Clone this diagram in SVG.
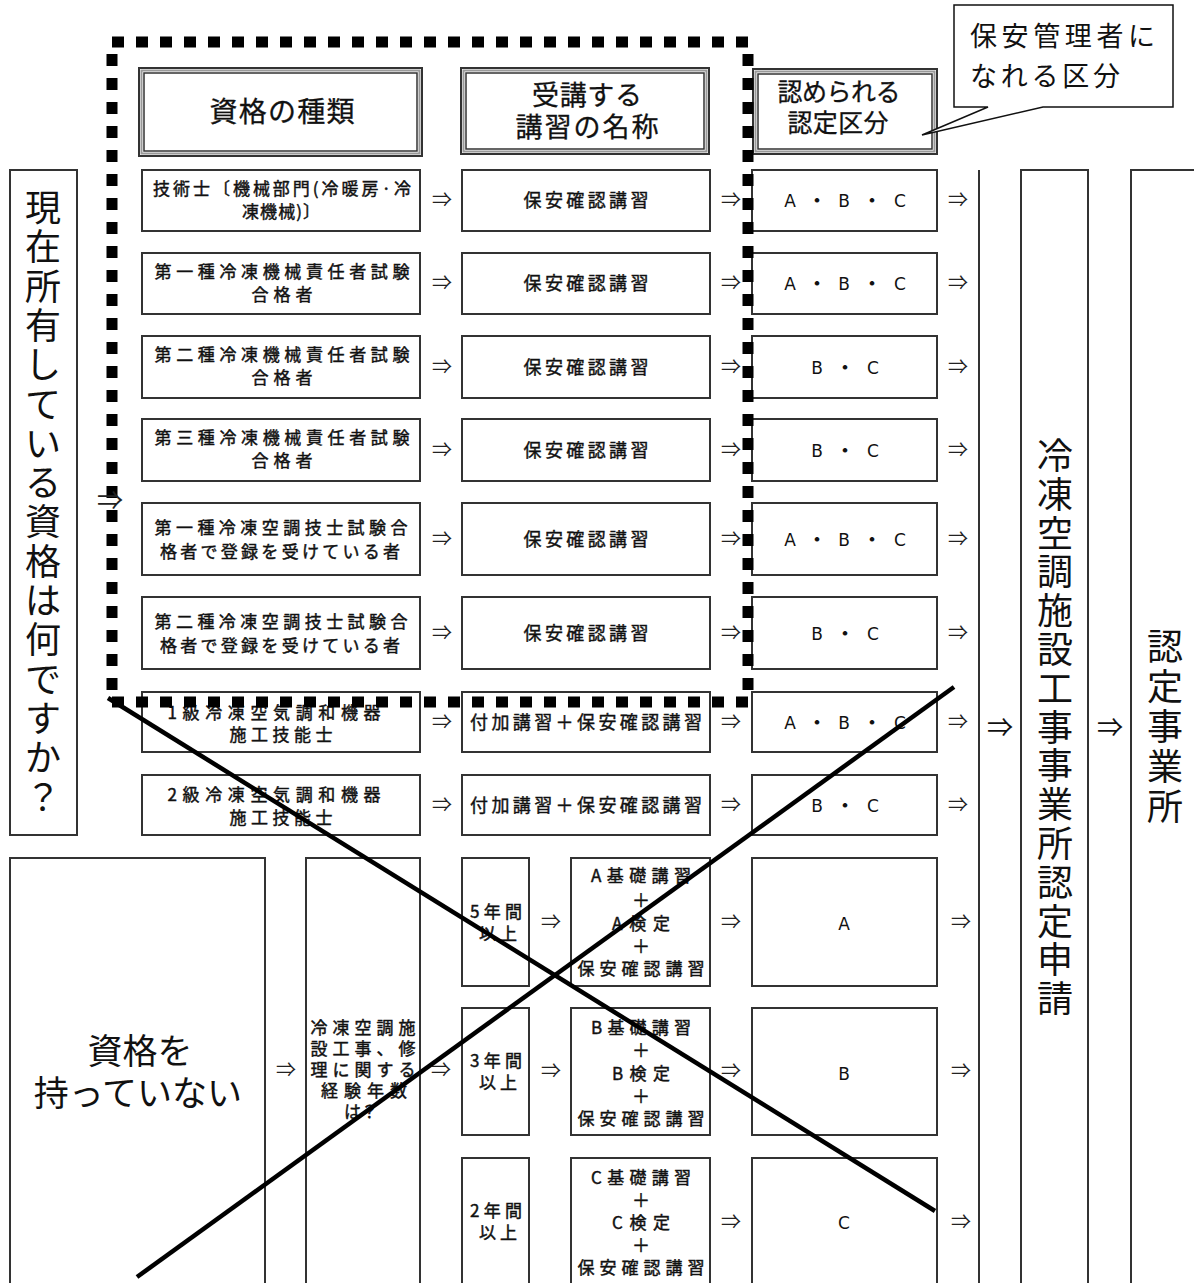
<svg xmlns="http://www.w3.org/2000/svg" width="1194" height="1283" viewBox="0 0 1194 1283">
<style>
.box{fill:#fff;stroke:#333;stroke-width:2}
.h1{fill:#fff;stroke:#333;stroke-width:2}
.h2{fill:none;stroke:#999;stroke-width:2}
.h3{fill:none;stroke:#333;stroke-width:1.5}
.t{font-family:"Noto Sans CJK JP","Noto Sans CJK SC",sans-serif;fill:#111;text-anchor:middle}
.s17{font-size:17px;stroke:#111;stroke-width:0.45}
.s18{font-size:18px;stroke:#111;stroke-width:0.4}
.big{font-size:36px}
.hd{stroke:#111;stroke-width:0.3}
.ar{font-family:"Noto Sans CJK JP","DejaVu Sans",sans-serif;font-size:20px;fill:#222;text-anchor:middle}
.ar2{font-family:"Noto Sans CJK JP","DejaVu Sans",sans-serif;font-size:26px;fill:#111;text-anchor:middle}
.lat{font-family:"DejaVu Sans","Liberation Sans",sans-serif;font-size:17px;fill:#111;text-anchor:middle}
.dot{font-family:"Noto Sans CJK JP",sans-serif;font-size:18px;font-weight:bold;fill:#111;text-anchor:middle}
</style>
<rect width="1194" height="1283" fill="#fff"/>

<!-- headers -->
<g id="hdr1">
<rect class="h1" x="139" y="68" width="283" height="88"/><rect class="h2" x="141.5" y="70.5" width="278" height="83"/><rect class="h3" x="144" y="73" width="273" height="78"/>
<text class="t hd" style="font-size:28px" x="282" y="121.5" textLength="145">資格の種類</text>
</g>
<g id="hdr2">
<rect class="h1" x="461" y="68" width="248" height="86"/><rect class="h2" x="463.5" y="70.5" width="243" height="81"/><rect class="h3" x="466" y="73" width="238" height="76"/>
<text class="t hd" style="font-size:27px" x="587" y="105" textLength="110">受講する</text>
<text class="t hd" style="font-size:27px" x="587" y="137" textLength="143">講習の名称</text>
</g>
<g id="hdr3">
<rect class="h1" x="753" y="69" width="184" height="85"/><rect class="h2" x="755.5" y="71.5" width="179" height="80"/><rect class="h3" x="758" y="74" width="174" height="75"/>
<text class="t hd" style="font-size:25px" x="839" y="101" textLength="123">認められる</text>
<text class="t hd" style="font-size:25px" x="838" y="132" textLength="101">認定区分</text>
</g>
<g id="callout">
<path d="M954,5 H1173 V107 H1043 L922,135 L988,107 H954 Z" fill="#fff" stroke="#111" stroke-width="1.5"/>
<text class="t" style="font-size:27px;text-anchor:start" x="970" y="46" textLength="185">保安管理者に</text>
<text class="t" style="font-size:27px;text-anchor:start" x="970" y="86" textLength="150">なれる区分</text>
</g>

<!-- left question -->
<g id="q">
<rect class="box" x="10" y="170" width="67" height="665"/>
<text class="t big" x="43 43 43 43 43 43 43 43 43 43 43 43 43 43 43 43" y="221 260 300 339 378 418 457 496 535 575 614 653 693 732 771 811">現在所有している資格は何ですか？</text>
</g>

<!-- column 1 -->
<g id="r1c1"><rect class="box" x="142" y="170" width="278" height="61"/>
<text class="t s17" x="282" y="195" textLength="258">技術士〔機械部門(冷暖房·冷</text>
<text class="t s17" x="281" y="218" textLength="78">凍機械)〕</text></g>
<g id="r2c1"><rect class="box" x="142" y="253" width="278" height="61"/>
<text class="t s17" x="282" y="278" textLength="255">第一種冷凍機械責任者試験</text>
<text class="t s17" x="282" y="301" textLength="61">合格者</text></g>
<g id="r3c1"><rect class="box" x="142" y="336" width="278" height="62"/>
<text class="t s17" x="282" y="361" textLength="255">第二種冷凍機械責任者試験</text>
<text class="t s17" x="282" y="384" textLength="61">合格者</text></g>
<g id="r4c1"><rect class="box" x="142" y="419" width="278" height="62"/>
<text class="t s17" x="282" y="444" textLength="255">第三種冷凍機械責任者試験</text>
<text class="t s17" x="282" y="467" textLength="61">合格者</text></g>
<g id="r5c1"><rect class="box" x="142" y="503" width="278" height="72"/>
<text class="t s17" x="281" y="534" textLength="253">第一種冷凍空調技士試験合</text>
<text class="t s17" x="280" y="558" textLength="240">格者で登録を受けている者</text></g>
<g id="r6c1"><rect class="box" x="142" y="597" width="278" height="72"/>
<text class="t s17" x="281" y="628" textLength="253">第二種冷凍空調技士試験合</text>
<text class="t s17" x="280" y="652" textLength="240">格者で登録を受けている者</text></g>
<g id="r7c1"><rect class="box" x="142" y="692" width="278" height="60"/>
<text class="t s17" x="274" y="719" textLength="213">1級冷凍空気調和機器</text>
<text class="t s17" x="281" y="741" textLength="103">施工技能士</text></g>
<g id="r8c1"><rect class="box" x="142" y="775" width="278" height="60"/>
<text class="t s17" x="274" y="801" textLength="213">2級冷凍空気調和機器</text>
<text class="t s17" x="281" y="824" textLength="103">施工技能士</text></g>

<!-- column 2 -->
<g id="r1c2"><rect class="box" x="462" y="170" width="248" height="61"/><text class="t s18" x="586" y="207" textLength="125">保安確認講習</text></g>
<g id="r2c2"><rect class="box" x="462" y="253" width="248" height="61"/><text class="t s18" x="586" y="290" textLength="125">保安確認講習</text></g>
<g id="r3c2"><rect class="box" x="462" y="336" width="248" height="62"/><text class="t s18" x="586" y="374" textLength="125">保安確認講習</text></g>
<g id="r4c2"><rect class="box" x="462" y="419" width="248" height="62"/><text class="t s18" x="586" y="457" textLength="125">保安確認講習</text></g>
<g id="r5c2"><rect class="box" x="462" y="503" width="248" height="72"/><text class="t s18" x="586" y="546" textLength="125">保安確認講習</text></g>
<g id="r6c2"><rect class="box" x="462" y="597" width="248" height="72"/><text class="t s18" x="586" y="640" textLength="125">保安確認講習</text></g>
<g id="r7c2"><rect class="box" x="462" y="692" width="248" height="60"/><text class="t s18" x="586" y="729" textLength="232">付加講習＋保安確認講習</text></g>
<g id="r8c2"><rect class="box" x="462" y="775" width="248" height="60"/><text class="t s18" x="586" y="812" textLength="232">付加講習＋保安確認講習</text></g>

<!-- column 3 -->
<g id="r1c3"><rect class="box" x="752" y="170" width="185" height="61"/><text class="lat" x="790 817 844 872 900" y="207">A<tspan class="dot">・</tspan>B<tspan class="dot">・</tspan>C</text></g>
<g id="r2c3"><rect class="box" x="752" y="253" width="185" height="61"/><text class="lat" x="790 817 844 872 900" y="290">A<tspan class="dot">・</tspan>B<tspan class="dot">・</tspan>C</text></g>
<g id="r3c3"><rect class="box" x="752" y="336" width="185" height="62"/><text class="lat" x="817 845 873" y="374">B<tspan class="dot">・</tspan>C</text></g>
<g id="r4c3"><rect class="box" x="752" y="419" width="185" height="62"/><text class="lat" x="817 845 873" y="457">B<tspan class="dot">・</tspan>C</text></g>
<g id="r5c3"><rect class="box" x="752" y="503" width="185" height="72"/><text class="lat" x="790 817 844 872 900" y="546">A<tspan class="dot">・</tspan>B<tspan class="dot">・</tspan>C</text></g>
<g id="r6c3"><rect class="box" x="752" y="597" width="185" height="72"/><text class="lat" x="817 845 873" y="640">B<tspan class="dot">・</tspan>C</text></g>
<g id="r7c3"><rect class="box" x="752" y="692" width="185" height="60"/><text class="lat" x="790 817 844 872 900" y="729">A<tspan class="dot">・</tspan>B<tspan class="dot">・</tspan>C</text></g>
<g id="r8c3"><rect class="box" x="752" y="775" width="185" height="60"/><text class="lat" x="817 845 873" y="812">B<tspan class="dot">・</tspan>C</text></g>

<!-- lower section -->
<g id="none"><rect class="box" x="10" y="858" width="255" height="440"/>
<text class="t" style="font-size:35px" x="140" y="1064">資格を</text>
<text class="t" style="font-size:35px" x="138" y="1106">持っていない</text></g>
<g id="exp"><rect class="box" x="306" y="858" width="114" height="440"/>
<text class="t s17" x="363" y="1034" textLength="105">冷凍空調施</text>
<text class="t s17" x="363" y="1055" textLength="105">設工事、修</text>
<text class="t s17" x="363" y="1076" textLength="105">理に関する</text>
<text class="t s17" x="364" y="1097" textLength="86">経験年数</text>
<text class="t s17" x="361" y="1118">は？</text></g>

<g id="y5"><rect class="box" x="462" y="858" width="67" height="128"/>
<text class="t s17" x="496" y="918" textLength="52">5年間</text><text class="t s17" x="498" y="940" textLength="38">以上</text></g>
<g id="y3"><rect class="box" x="462" y="1008" width="67" height="127"/>
<text class="t s17" x="496" y="1067" textLength="52">3年間</text><text class="t s17" x="498" y="1089" textLength="38">以上</text></g>
<g id="y2"><rect class="box" x="462" y="1158" width="67" height="140"/>
<text class="t s17" x="496" y="1217" textLength="52">2年間</text><text class="t s17" x="498" y="1239" textLength="38">以上</text></g>

<g id="ca"><rect class="box" x="571" y="858" width="139" height="128"/>
<text class="t s17" x="641" y="882" textLength="100">A基礎講習</text><text class="t s18" x="641" y="907">＋</text>
<text class="t s17" x="641" y="930" textLength="58">A検定</text><text class="t s18" x="641" y="953">＋</text>
<text class="t s17" x="641" y="975" textLength="127">保安確認講習</text></g>
<g id="cb"><rect class="box" x="571" y="1008" width="139" height="127"/>
<text class="t s17" x="641" y="1034" textLength="100">B基礎講習</text><text class="t s18" x="641" y="1057">＋</text>
<text class="t s17" x="641" y="1080" textLength="58">B検定</text><text class="t s18" x="641" y="1103">＋</text>
<text class="t s17" x="641" y="1125" textLength="127">保安確認講習</text></g>
<g id="cc"><rect class="box" x="571" y="1158" width="139" height="140"/>
<text class="t s17" x="641" y="1184" textLength="100">C基礎講習</text><text class="t s18" x="641" y="1207">＋</text>
<text class="t s17" x="641" y="1229" textLength="58">C検定</text><text class="t s18" x="641" y="1252">＋</text>
<text class="t s17" x="641" y="1274" textLength="127">保安確認講習</text></g>

<g id="ga"><rect class="box" x="752" y="858" width="185" height="128"/><text class="lat" x="844" y="930">A</text></g>
<g id="gb"><rect class="box" x="752" y="1008" width="185" height="127"/><text class="lat" x="844" y="1080">B</text></g>
<g id="gc"><rect class="box" x="752" y="1158" width="185" height="140"/><text class="lat" x="844" y="1229">C</text></g>

<!-- right side -->
<g id="apply"><rect class="box" x="1021" y="170" width="67" height="1130"/>
<text class="t big" x="1055 1055 1055 1055 1055 1055 1055 1055 1055 1055 1055 1055 1055 1055 1055" y="469 508 547 585 624 663 702 741 779 818 857 896 935 973 1012">冷凍空調施設工事事業所認定申請</text></g>
<g id="cert"><rect class="box" x="1131" y="170" width="80" height="1130"/>
<text class="t big" x="1165 1165 1165 1165 1165" y="660 700 740 780 820">認定事業所</text></g>

<!-- dotted frame -->
<g id="dotted-frame">
<rect x="112" y="42" width="636" height="660" fill="none" stroke="#000" stroke-width="11" stroke-dasharray="12 12"/>
</g>

<!-- connectors -->
<g id="connectors">
<line x1="979" y1="170" x2="979" y2="1290" stroke="#333" stroke-width="2"/>
<text class="ar" style="font-size:26px" x="110" y="510">⇒</text>
<text class="ar" x="442" y="207">⇒</text><text class="ar" x="731" y="207">⇒</text><text class="ar" x="958" y="207">⇒</text>
<text class="ar" x="442" y="290">⇒</text><text class="ar" x="731" y="290">⇒</text><text class="ar" x="958" y="290">⇒</text>
<text class="ar" x="442" y="374">⇒</text><text class="ar" x="731" y="374">⇒</text><text class="ar" x="958" y="374">⇒</text>
<text class="ar" x="442" y="457">⇒</text><text class="ar" x="731" y="457">⇒</text><text class="ar" x="958" y="457">⇒</text>
<text class="ar" x="442" y="546">⇒</text><text class="ar" x="731" y="546">⇒</text><text class="ar" x="958" y="546">⇒</text>
<text class="ar" x="442" y="640">⇒</text><text class="ar" x="731" y="640">⇒</text><text class="ar" x="958" y="640">⇒</text>
<text class="ar" x="442" y="729">⇒</text><text class="ar" x="731" y="729">⇒</text><text class="ar" x="958" y="729">⇒</text>
<text class="ar" x="442" y="812">⇒</text><text class="ar" x="731" y="812">⇒</text><text class="ar" x="958" y="812">⇒</text>
<text class="ar" x="286" y="1077">⇒</text><text class="ar" x="441" y="1077">⇒</text>
<text class="ar" x="551" y="929">⇒</text><text class="ar" x="731" y="929">⇒</text><text class="ar" x="961" y="929">⇒</text>
<text class="ar" x="551" y="1078">⇒</text><text class="ar" x="731" y="1078">⇒</text><text class="ar" x="961" y="1078">⇒</text>
<text class="ar" x="731" y="1229">⇒</text><text class="ar" x="961" y="1229">⇒</text>
<text class="ar2" x="1000" y="737">⇒</text><text class="ar2" x="1110" y="737">⇒</text>
</g>

<g id="cross">
<line x1="108" y1="698" x2="935" y2="1211" stroke="#000" stroke-width="4.5"/>
<line x1="137" y1="1277" x2="954" y2="687" stroke="#000" stroke-width="4.5"/>
</g>
</svg>
